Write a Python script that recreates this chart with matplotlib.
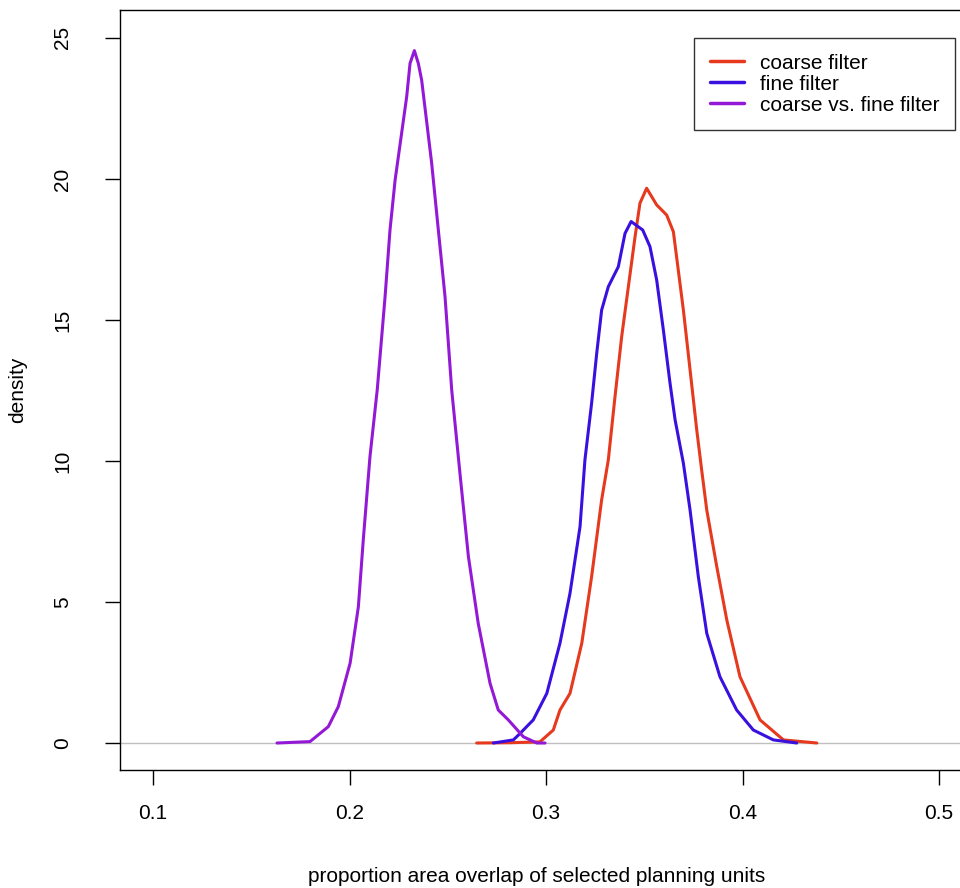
import numpy as np
import matplotlib.pyplot as plt

plt.rcParams['font.family'] = ['Liberation Sans', 'DejaVu Sans']

# density curves (x = proportion overlap, y = density)
coarse_x = [0.2647, 0.2817, 0.2969, 0.3037, 0.3071, 0.3122, 0.3182, 0.3232, 0.3283,
            0.3317, 0.3351, 0.3385, 0.3419, 0.3453, 0.3478, 0.3512, 0.3563, 0.3614,
            0.3648, 0.3673, 0.3699, 0.3733, 0.3767, 0.3792, 0.3818, 0.3869, 0.3920,
            0.3987, 0.4089, 0.4208, 0.4378]
coarse_y = [0.0, 0.01, 0.04, 0.46, 1.17, 1.76, 3.54, 5.90, 8.62,
            10.04, 12.28, 14.41, 16.18, 17.95, 19.14, 19.67, 19.08, 18.72,
            18.13, 16.77, 15.35, 13.23, 11.10, 9.68, 8.26, 6.25, 4.36,
            2.35, 0.82, 0.11, 0.0]

fine_x = [0.2732, 0.2834, 0.2868, 0.2935, 0.3004, 0.3071, 0.3122, 0.3173, 0.3198,
          0.3232, 0.3258, 0.3283, 0.3317, 0.3368, 0.3402, 0.3433, 0.3492, 0.3529,
          0.3563, 0.3597, 0.3631, 0.3657, 0.3699, 0.3733, 0.3775, 0.3818, 0.3885,
          0.3970, 0.4055, 0.4157, 0.4276]
fine_y = [0.0, 0.11, 0.34, 0.82, 1.76, 3.54, 5.31, 7.67, 10.04,
          12.05, 13.82, 15.35, 16.18, 16.89, 18.07, 18.49, 18.19, 17.60,
          16.42, 14.65, 12.76, 11.45, 9.92, 8.26, 5.90, 3.89, 2.35,
          1.17, 0.46, 0.11, 0.0]

versus_x = [0.1631, 0.1799, 0.1892, 0.1943, 0.2003, 0.2045, 0.2070, 0.2104, 0.2141,
            0.2181, 0.2206, 0.2232, 0.2291, 0.2308, 0.2330, 0.2350, 0.2367, 0.2418,
            0.2452, 0.2486, 0.2520, 0.2562, 0.2605, 0.2655, 0.2715, 0.2757, 0.2808,
            0.2885, 0.2953, 0.2995]
versus_y = [0.0, 0.05, 0.58, 1.29, 2.83, 4.83, 7.20, 10.15, 12.52,
            15.83, 18.19, 19.96, 22.92, 24.10, 24.55, 24.10, 23.51, 20.56,
            18.19, 15.83, 12.52, 9.56, 6.61, 4.24, 2.12, 1.17, 0.82,
            0.22, 0.0, 0.0]

labels = ['coarse filter', 'fine filter', 'coarse vs. fine filter']
colors = ['#e6391d', '#3a10e0', '#9419d6']

fig = plt.figure(figsize=(9.6, 8.88), dpi=100)
ax = fig.add_axes([120 / 960, 1 - 770 / 888, (975 - 120) / 960, (770 - 10) / 888])

ax.axhline(0, color='#bfbfbf', lw=1, zorder=1)
style = dict(lw=2.2, solid_joinstyle='round', solid_capstyle='round')
ax.plot(coarse_x, coarse_y, color=colors[0], label=labels[0], **style)
ax.plot(fine_x, fine_y, color=colors[1], label=labels[1], **style)
ax.plot(versus_x, versus_y, color=colors[2], label=labels[2], **style)

ax.set_xlim(0.0832, 0.5183)
ax.set_ylim(-0.957, 25.99)
ax.set_xticks([0.1, 0.2, 0.3, 0.4, 0.5])
ax.set_xticklabels(['0.1', '0.2', '0.3', '0.4', '0.5'])
ax.set_yticks([0, 5, 10, 15, 20, 25])
ax.set_yticklabels(['0', '5', '10', '15', '20', '25'], rotation=90, va='center')
ax.tick_params(direction='out', length=10.5, width=1, labelsize=15, pad=14)
ax.tick_params(axis='y', pad=24)
for s in ax.spines.values():
    s.set_linewidth(1)

ax.set_xlabel('proportion area overlap of selected planning units', fontsize=15)
ax.set_ylabel('density', fontsize=15)
ax.xaxis.set_label_coords(537 / 960, 1 - 876 / 888, transform=fig.transFigure)
ax.yaxis.set_label_coords(18 / 960, 1 - 390 / 888, transform=fig.transFigure)
ax.xaxis.label.set_va('center')
ax.yaxis.label.set_va('center')

leg = ax.legend(loc='upper right', bbox_to_anchor=(955 / 960, 1 - 38 / 888),
                bbox_transform=fig.transFigure, fontsize=15, frameon=True,
                fancybox=False, borderaxespad=0, handlelength=1.65, handletextpad=0.75,
                labelspacing=0.1, borderpad=0.75)
leg.get_frame().set_edgecolor('black')
leg.get_frame().set_linewidth(1)
for line in leg.get_lines():
    line.set_linewidth(2.5)

fig.savefig('out.png', dpi=100)
